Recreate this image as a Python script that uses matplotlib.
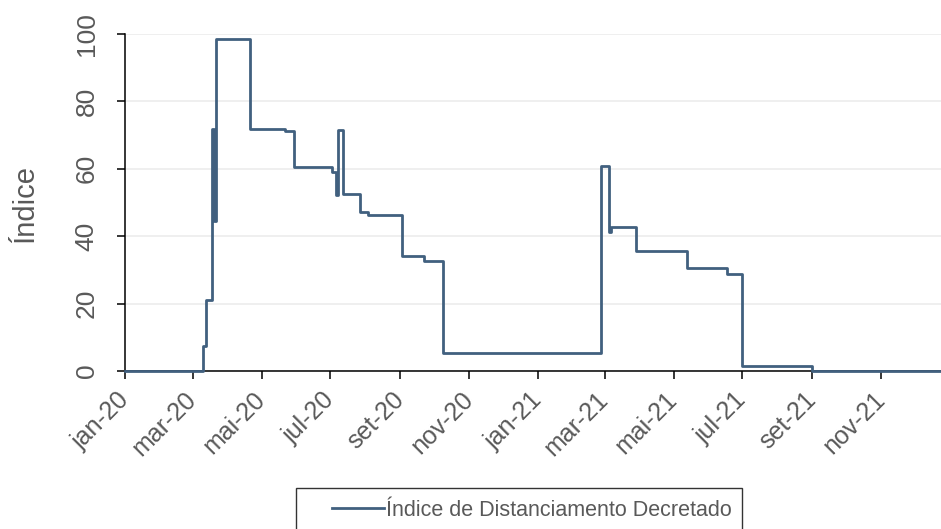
import matplotlib
matplotlib.use("Agg")
import matplotlib.pyplot as plt
import matplotlib.dates as mdates
import pandas as pd
from matplotlib.patches import Rectangle

plt.rcParams['font.family'] = ['Liberation Sans', 'DejaVu Sans']

# Data: step breakpoints (date, index value)
dates = ['2020-01-01', '2020-03-10', '2020-03-13', '2020-03-18', '2020-03-20',
         '2020-03-22', '2020-04-21', '2020-05-22', '2020-05-30', '2020-07-02',
         '2020-07-06', '2020-07-08', '2020-07-12', '2020-07-27', '2020-08-03',
         '2020-09-02', '2020-09-22', '2020-10-09', '2021-02-26', '2021-03-05',
         '2021-03-07', '2021-03-29', '2021-05-13', '2021-06-17', '2021-07-01',
         '2021-09-01', '2021-12-31']
values = [0, 7.5, 21, 71.7, 44.5,
          98.5, 71.7, 71.2, 60.5, 59,
          52.3, 71.5, 52.5, 47.3, 46.4,
          34.1, 32.6, 5.3, 60.9, 41.3,
          42.8, 35.6, 30.5, 28.9, 1.4,
          0, 0]
series_label = 'Índice de Distanciamento Decretado'
y_label = 'Índice'
month_names = ['jan', 'fev', 'mar', 'abr', 'mai', 'jun', 'jul', 'ago', 'set', 'out', 'nov', 'dez']

W, H = 941, 529
fig = plt.figure(figsize=(W / 100, H / 100), dpi=100)
ax = fig.add_axes([125 / W, 1 - 371 / H, (W - 125) / W, (371 - 34) / H])

x = pd.to_datetime(dates)
line_color = '#41607f'
ax.plot(x, values, drawstyle='steps-post', color=line_color, lw=2.0, label=series_label,
        zorder=3, clip_on=False)

ax.set_ylim(0, 100)
ax.set_xlim(pd.Timestamp('2020-01-01'), pd.Timestamp('2021-12-24'))
ax.set_yticks([0, 20, 40, 60, 80, 100])
ax.yaxis.grid(True, color='#efefef', lw=1.4)
ax.set_axisbelow(True)

ax.xaxis.set_major_locator(mdates.MonthLocator(bymonth=[1, 3, 5, 7, 9, 11]))
ax.xaxis.set_major_formatter(
    matplotlib.ticker.FuncFormatter(
        lambda v, p: f"{month_names[mdates.num2date(v).month - 1]}-{mdates.num2date(v).year % 100:02d}"))

for s in ['top', 'right']:
    ax.spines[s].set_visible(False)
for s in ['left', 'bottom']:
    ax.spines[s].set_color('black')
    ax.spines[s].set_linewidth(1.1)

tick_color = '#595959'
ax.tick_params(axis='both', direction='out', length=6, width=1.1, color='black',
               labelcolor=tick_color)
ax.tick_params(axis='y', pad=13, labelsize=19)
ax.tick_params(axis='x', pad=12, labelsize=18)
for lab in ax.get_yticklabels():
    lab.set_rotation(90)
    lab.set_va('center')
for lab in ax.get_xticklabels():
    lab.set_rotation(45)
    lab.set_ha('right')
    lab.set_va('center')
    lab.set_rotation_mode('anchor')

ax.set_ylabel(y_label, fontsize=21, color=tick_color, labelpad=26)

leg = fig.legend(loc='center', bbox_to_anchor=(532 / W, 1 - 510 / H), frameon=False,
                 fontsize=15.5, handlelength=2.4, handletextpad=0.1)
for t in leg.get_texts():
    t.set_color(tick_color)
fig.patches.append(Rectangle((296 / W, -0.05), (742 - 296) / W, 0.05 + (529 - 488) / H,
                             transform=fig.transFigure, fill=False, edgecolor='#333333',
                             lw=1.0, figure=fig))

fig.savefig('out.png', dpi=100)
